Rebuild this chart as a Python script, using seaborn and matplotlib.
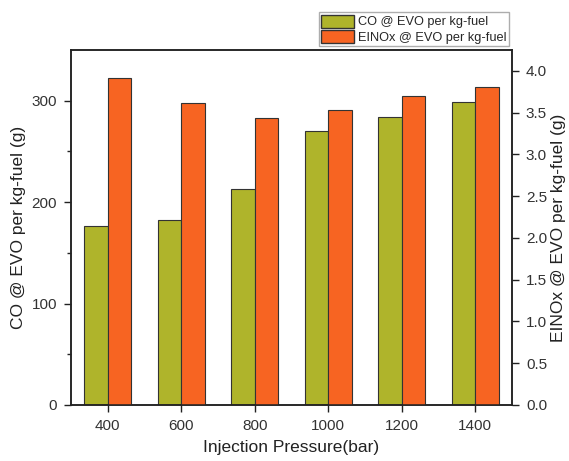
import pandas as pd
import matplotlib
matplotlib.use("Agg")
import matplotlib.pyplot as plt
import matplotlib.patches as mpatches
import seaborn as sns

# Datos
presiones = ["400", "600", "800", "1000", "1200", "1400"]
co_evo = [176, 182, 213, 270, 284, 299]
einox_evo = [3.92, 3.61, 3.44, 3.53, 3.70, 3.81]

lbl_co = "CO @ EVO per kg-fuel"
lbl_nox = "EINOx @ EVO per kg-fuel"
verde = "#AFB42B"
naranja = "#F76422"

sns.set_style("ticks")
plt.rcParams["font.family"] = ["Liberation Sans", "DejaVu Sans"]

df_co = pd.DataFrame({"Presion": presiones, "valor": co_evo, "serie": lbl_co})
df_nox = pd.DataFrame({"Presion": presiones, "valor": einox_evo, "serie": lbl_nox})

fig = plt.figure(figsize=(5.69, 4.61), dpi=100)
ax = fig.add_axes([0.1248, 0.1215, 0.775, 0.77])
ax2 = ax.twinx()

paleta = {lbl_co: verde, lbl_nox: naranja}
orden = [lbl_co, lbl_nox]

sns.barplot(data=df_co, x="Presion", y="valor", hue="serie", hue_order=orden,
            palette=paleta, order=presiones, width=0.64, dodge=True, ax=ax,
            edgecolor="#333333", linewidth=0.8, legend=False, saturation=1)
sns.barplot(data=df_nox, x="Presion", y="valor", hue="serie", hue_order=orden,
            palette=paleta, order=presiones, width=0.64, dodge=True, ax=ax2,
            edgecolor="#333333", linewidth=0.8, legend=False, saturation=1)

ax.set_xlim(-0.5, 5.5)
ax.set_ylim(0, 350)
ax2.set_ylim(0, 4.25)
ax.set_yticks([0, 100, 200, 300])
ax.set_yticks([50, 150, 250], minor=True)
ax2.set_yticks([0, 0.5, 1.0, 1.5, 2.0, 2.5, 3.0, 3.5, 4.0])
ax2.set_yticklabels([f"{v:.1f}" for v in ax2.get_yticks()])

ax.set_xlabel("Injection Pressure(bar)", fontsize=12.5, labelpad=5, color="#222222")
ax.set_ylabel("CO @ EVO per kg-fuel (g)", fontsize=12.5, labelpad=4, color="#222222")
ax2.set_ylabel("EINOx @ EVO per kg-fuel (g)", fontsize=12.5, labelpad=3, color="#222222")

for a in (ax, ax2):
    a.tick_params(axis="both", which="major", labelsize=11, direction="out",
                  length=5, width=1, pad=5, colors="#222222", labelcolor="#333333")
    a.tick_params(axis="y", which="minor", direction="out", length=3, width=1)
    for s in a.spines.values():
        s.set_visible(True)
        s.set_linewidth(1.1)
        s.set_color("#222222")

handles = [mpatches.Patch(facecolor=verde, edgecolor="#333333", label=lbl_co),
           mpatches.Patch(facecolor=naranja, edgecolor="#333333", label=lbl_nox)]
fig.legend(handles=handles, loc="upper right", bbox_to_anchor=(0.895, 0.974),
           fontsize=9.2, frameon=True, fancybox=False, edgecolor="#999999",
           handlelength=2.6, handleheight=1.2, handletextpad=0.3,
           labelspacing=0.1, borderpad=0.2, borderaxespad=0)

plt.savefig("out.png", dpi=100)
